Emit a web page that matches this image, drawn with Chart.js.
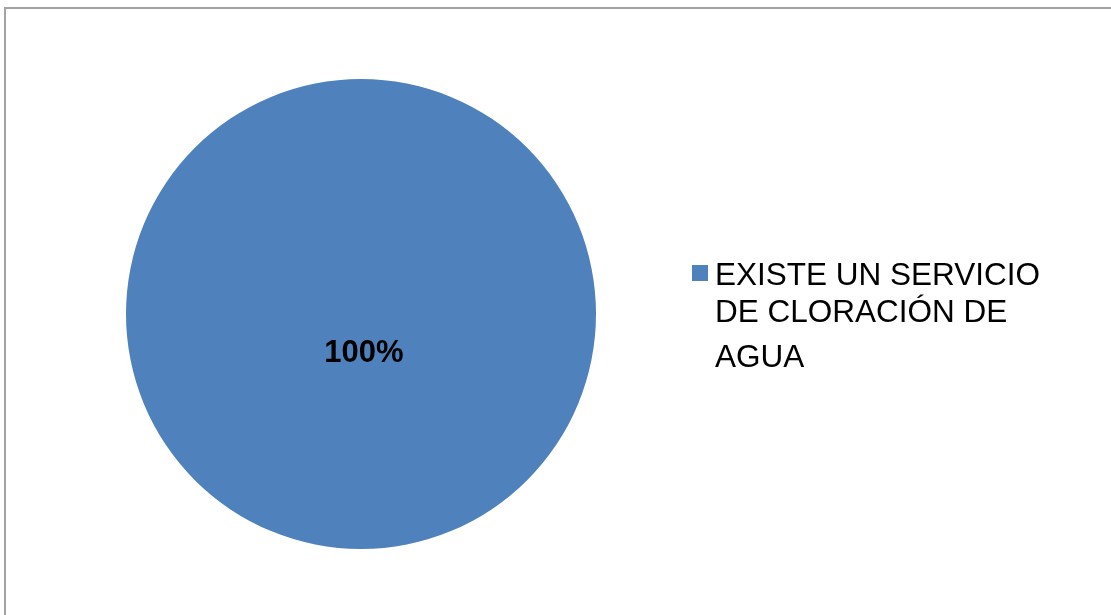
<!DOCTYPE html>
<html>
<head>
<meta charset="utf-8">
<script src="https://cdn.jsdelivr.net/npm/chart.js@4/dist/chart.umd.min.js"></script>
<style>
    html, body { margin: 0; padding: 0; background: #fff; }
    #marco {
        position: absolute; left: 4px; top: 7px; width: 1200px; height: 700px;
        border-left: 2px solid #a3a3a3; border-top: 2px solid #a3a3a3;
    }
    #caja { position: absolute; left: 0; top: 0; width: 1111px; height: 615px; }
</style>
</head>
<body>
<div id="marco"></div>
<div id="caja"><canvas id="graficoCloracion"></canvas></div>
<script>
// Datos del gráfico
const categorias = ['EXISTE UN SERVICIO DE CLORACIÓN DE AGUA'];
const lineasLeyenda = [['EXISTE UN SERVICIO', 'DE CLORACIÓN DE', 'AGUA']];
const valores = [100];
const colores = ['#4F81BD'];

// Etiqueta de porcentaje dentro del sector
const etiquetaPorcentaje = {
    id: 'etiquetaPorcentaje',
    afterDatasetsDraw(chart) {
        const ctx = chart.ctx;
        const total = valores.reduce((a, b) => a + b, 0);
        chart.getDatasetMeta(0).data.forEach((arc, i) => {
            const pct = Math.round(valores[i] / total * 100) + '%';
            ctx.save();
            ctx.font = 'bold 31px "Liberation Sans", Arial, sans-serif';
            ctx.fillStyle = '#000';
            ctx.textAlign = 'center';
            ctx.textBaseline = 'middle';
            ctx.fillText(pct, arc.x + 3, arc.y + arc.outerRadius * 0.17);
            ctx.restore();
        });
    }
};

// Leyenda a la derecha, en varias líneas
const leyendaDerecha = {
    id: 'leyendaDerecha',
    afterDraw(chart) {
        const ctx = chart.ctx;
        const lineasY = [276, 313, 358];
        lineasLeyenda.forEach((lineas, i) => {
            ctx.save();
            ctx.fillStyle = colores[i];
            ctx.fillRect(692, 265, 16, 16);
            ctx.font = '31.5px "Liberation Sans", Arial, sans-serif';
            ctx.fillStyle = '#000';
            ctx.textBaseline = 'middle';
            lineas.forEach((t, j) => ctx.fillText(t, 715, lineasY[j]));
            ctx.restore();
        });
    }
};

const ctx = document.getElementById('graficoCloracion').getContext('2d');
new Chart(ctx, {
    type: 'pie',
    data: {
        labels: categorias,
        datasets: [{
            data: valores,
            backgroundColor: colores,
            borderWidth: 0
        }]
    },
    options: {
        responsive: true,
        maintainAspectRatio: false,
        animation: false,
        layout: {
            padding: { top: 79, bottom: 66, left: 126, right: 515 }
        },
        plugins: {
            legend: { display: false },
            tooltip: { enabled: false }
        }
    },
    plugins: [etiquetaPorcentaje, leyendaDerecha]
});
</script>
</body>
</html>
